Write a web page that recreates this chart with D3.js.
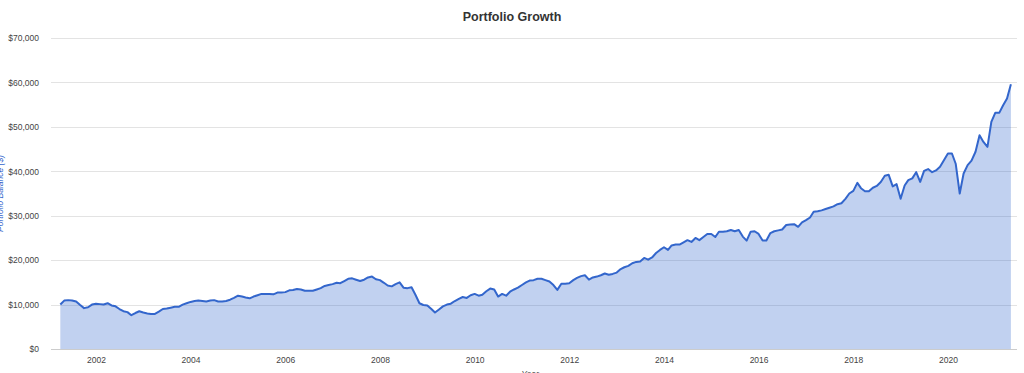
<!DOCTYPE html>
<html>
<head>
<meta charset="utf-8">
<script src="https://cdn.jsdelivr.net/npm/d3@7"></script>
<style>
  html, body { margin: 0; padding: 0; background: #fff; }
  svg { display: block; font-family: "Liberation Sans", Arial, sans-serif; }
</style>
</head>
<body>
<svg id="chart"></svg>
<script>
// monthly balances (thousands of $), first month is April 2001
const startMonth = "2001-04";
const balance2001 = [10.0, 10.9, 11.0, 10.9, 10.7, 9.9, 9.2, 9.4, 10.0];
const balance2002 = [10.2, 10.1, 10.0, 10.3, 9.8, 9.6, 9.0, 8.5, 8.3, 7.6, 8.1, 8.5];
const balance2003 = [8.2, 8.0, 7.9, 7.9, 8.4, 9.0, 9.1, 9.3, 9.5, 9.5, 10.0, 10.3];
const balance2004 = [10.6, 10.8, 10.9, 10.8, 10.7, 10.9, 11.0, 10.7, 10.7, 10.8, 11.1, 11.5];
const balance2005 = [12.0, 11.8, 11.6, 11.4, 11.8, 12.1, 12.4, 12.4, 12.4, 12.3, 12.7, 12.7];
const balance2006 = [12.8, 13.2, 13.3, 13.5, 13.4, 13.1, 13.1, 13.1, 13.4, 13.7, 14.2, 14.4];
const balance2007 = [14.6, 14.9, 14.8, 15.3, 15.8, 15.9, 15.6, 15.3, 15.6, 16.1, 16.3, 15.7];
const balance2008 = [15.5, 14.9, 14.3, 14.1, 14.6, 15.0, 13.8, 13.7, 13.9, 12.2, 10.3, 9.9];
const balance2009 = [9.8, 9.0, 8.2, 8.9, 9.6, 10.0, 10.2, 10.8, 11.3, 11.7, 11.5, 12.1];
const balance2010 = [12.4, 12.0, 12.2, 13.0, 13.6, 13.4, 11.8, 12.4, 12.0, 12.9, 13.4, 13.8];
const balance2011 = [14.4, 15.0, 15.4, 15.5, 15.8, 15.8, 15.5, 15.2, 14.4, 13.3, 14.7, 14.7];
const balance2012 = [14.8, 15.5, 16.0, 16.4, 16.6, 15.6, 16.1, 16.3, 16.6, 17.0, 16.7, 16.9];
const balance2013 = [17.2, 18.0, 18.4, 18.7, 19.3, 19.6, 19.7, 20.5, 20.1, 20.6, 21.6, 22.3];
const balance2014 = [22.9, 22.3, 23.3, 23.5, 23.5, 24.0, 24.5, 24.1, 25.0, 24.5, 25.2, 25.9];
const balance2015 = [25.9, 25.2, 26.4, 26.4, 26.5, 26.8, 26.5, 26.8, 25.3, 24.4, 26.4, 26.5];
const balance2016 = [25.9, 24.4, 24.4, 26.1, 26.5, 26.7, 26.9, 27.9, 28.0, 28.1, 27.5, 28.5];
const balance2017 = [29.0, 29.6, 30.9, 31.0, 31.2, 31.5, 31.8, 32.1, 32.6, 32.8, 33.8, 35.0];
const balance2018 = [35.6, 37.4, 36.2, 35.5, 35.5, 36.3, 36.7, 37.6, 39.0, 39.2, 36.6, 37.1];
const balance2019 = [33.8, 36.8, 38.0, 38.4, 39.8, 37.6, 40.1, 40.5, 39.8, 40.2, 41.0, 42.5];
const balance2020 = [44.0, 44.0, 41.7, 35.0, 39.5, 41.4, 42.4, 44.4, 48.1, 46.6, 45.5, 51.1];
const balance2021 = [53.2, 53.2, 54.8, 56.4, 59.6];

const yTicks = [0, 10000, 20000, 30000, 40000, 50000, 60000, 70000];

const balances = [].concat(
  balance2001, balance2002, balance2003, balance2004, balance2005, balance2006,
  balance2007, balance2008, balance2009, balance2010, balance2011, balance2012,
  balance2013, balance2014, balance2015, balance2016, balance2017, balance2018,
  balance2019, balance2020, balance2021
);

const start = d3.timeParse("%Y-%m")(startMonth);
const data = balances.map((v, i) => ({ date: d3.timeMonth.offset(start, i), value: v * 1000 }));

const width = 1024;
const height = 373;
const margin = { top: 38, right: 7, bottom: 24, left: 51 };

const svg = d3.select("#chart").attr("width", width).attr("height", height);

// --- Scales ---
const xScale = d3
  .scaleTime()
  .domain([d3.timeDay.offset(data[0].date, -72), d3.timeDay.offset(data[data.length - 1].date, 47)])
  .range([margin.left, width - margin.right]);

const yScale = d3
  .scaleLinear()
  .domain([0, 70000])
  .range([height - margin.bottom, margin.top]);

// --- Gridlines ---
svg
  .append("g")
  .selectAll("line")
  .data(yTicks)
  .enter()
  .append("line")
  .attr("x1", margin.left)
  .attr("x2", width - margin.right)
  .attr("y1", (d) => Math.round(yScale(d)) + 0.5)
  .attr("y2", (d) => Math.round(yScale(d)) + 0.5)
  .attr("stroke", (d) => (d === 0 ? "#cccccc" : "#e3e3e3"))
  .attr("stroke-width", 1);

// --- Area + line ---
const area = d3
  .area()
  .x((d) => xScale(d.date))
  .y0(yScale(0))
  .y1((d) => yScale(d.value));

const line = d3
  .line()
  .x((d) => xScale(d.date))
  .y((d) => yScale(d.value));

svg.append("path").datum(data).attr("d", area).attr("fill", "#3366cc").attr("fill-opacity", 0.3);

svg
  .append("path")
  .datum(data)
  .attr("d", line)
  .attr("fill", "none")
  .attr("stroke", "#3366cc")
  .attr("stroke-width", 2)
  .attr("stroke-linejoin", "round");

// --- Axes (labels only, no domain/tick lines) ---
const yAxis = svg
  .append("g")
  .attr("transform", `translate(${margin.left - 12}, 0)`)
  .call(d3.axisLeft(yScale).tickValues(yTicks).tickSize(0).tickPadding(0).tickFormat((d) => "$" + d3.format(",")(d)));
yAxis.select(".domain").remove();
yAxis.selectAll("text").style("font-size", "8.5px").style("fill", "#444").style("font-family", "Liberation Sans, Arial, sans-serif");

const xAxis = svg
  .append("g")
  .attr("transform", `translate(0, ${height - margin.bottom})`)
  .call(d3.axisBottom(xScale).ticks(d3.timeYear.every(2)).tickSize(0).tickPadding(8).tickFormat(d3.timeFormat("%Y")));
xAxis.select(".domain").remove();
xAxis.selectAll("text").style("font-size", "8.5px").style("fill", "#444").style("font-family", "Liberation Sans, Arial, sans-serif");

// --- Titles ---
svg
  .append("text")
  .attr("x", 512)
  .attr("y", 21)
  .attr("text-anchor", "middle")
  .style("font-size", "12.5px")
  .style("font-weight", "bold")
  .style("fill", "#333")
  .text("Portfolio Growth");

svg
  .append("text")
  .attr("x", 530)
  .attr("y", 377)
  .attr("text-anchor", "middle")
  .style("font-size", "8.5px")
  .style("font-style", "italic")
  .style("fill", "#444")
  .text("Year");

svg
  .append("text")
  .attr("transform", "rotate(-90)")
  .attr("x", -(margin.top + yScale.range()[0]) / 2)
  .attr("y", 3)
  .attr("text-anchor", "middle")
  .style("font-size", "8.5px")
  .style("font-style", "italic")
  .style("fill", "#3366cc")
  .text("Portfolio Balance ($)");
</script>
</body>
</html>
